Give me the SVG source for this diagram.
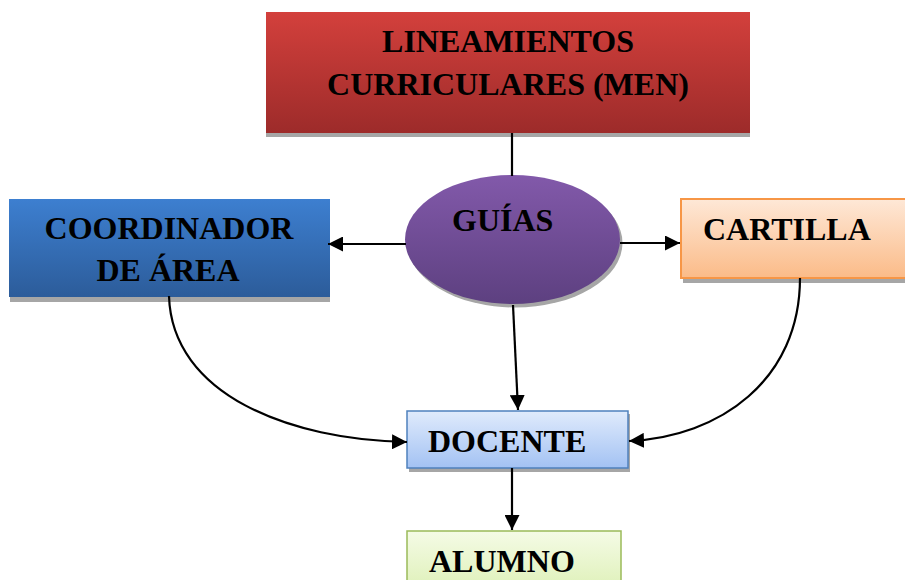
<svg xmlns="http://www.w3.org/2000/svg" width="905" height="580" viewBox="0 0 905 580">
<defs>
<linearGradient id="gRed" x1="0" y1="0" x2="0" y2="1"><stop offset="0" stop-color="#d3403c"/><stop offset="1" stop-color="#9d2b2a"/></linearGradient>
<linearGradient id="gBlue" x1="0" y1="0" x2="0" y2="1"><stop offset="0" stop-color="#3d7fd0"/><stop offset="1" stop-color="#2c5c9a"/></linearGradient>
<linearGradient id="gPurple" x1="0" y1="0" x2="0" y2="1"><stop offset="0" stop-color="#8259aa"/><stop offset="1" stop-color="#5d4080"/></linearGradient>
<linearGradient id="gPeach" x1="0" y1="0" x2="0" y2="1"><stop offset="0" stop-color="#fee8d7"/><stop offset="1" stop-color="#fbbb88"/></linearGradient>
<linearGradient id="gLBlue" x1="0" y1="0" x2="0" y2="1"><stop offset="0" stop-color="#e0ebfc"/><stop offset="1" stop-color="#a3c2f3"/></linearGradient>
<linearGradient id="gGreen" x1="0" y1="0" x2="0" y2="1"><stop offset="0" stop-color="#f5fbe6"/><stop offset="1" stop-color="#d6eda8"/></linearGradient>
<marker id="arr" markerUnits="userSpaceOnUse" markerWidth="16" markerHeight="15" refX="15" refY="7.5" orient="auto"><path d="M0,0 L15,7.5 L0,15 z" fill="#000"/></marker>
<style>
.t{font-family:"Liberation Serif","Times New Roman",serif;font-weight:bold;font-size:32px;fill:#000}
.sh{fill:#a6a6a6}
.c{fill:none;stroke:#000;stroke-width:2.2}
.a{marker-end:url(#arr)}
</style>
</defs>
<g id="lineamientos">
<rect class="sh" x="266" y="16" width="484" height="121"/>
<rect x="266" y="12" width="484" height="121" fill="url(#gRed)"/>
<text class="t" x="508" y="52" text-anchor="middle">LINEAMIENTOS</text>
<text class="t" x="508" y="95" text-anchor="middle">CURRICULARES (MEN)</text>
</g>
<g id="coordinador">
<rect class="sh" x="10" y="203" width="320" height="99"/>
<rect x="9" y="199" width="321" height="98" fill="url(#gBlue)"/>
<text class="t" x="169" y="239" text-anchor="middle">COORDINADOR</text>
<text class="t" x="168" y="281" text-anchor="middle">DE ÁREA</text>
</g>
<g id="guias">
<ellipse class="sh" cx="515" cy="243" rx="107.5" ry="64.5"/>
<ellipse cx="512.5" cy="239.5" rx="107.5" ry="64.5" fill="url(#gPurple)"/>
<text class="t" x="452" y="231">GUÍAS</text>
</g>
<g id="cartilla">
<rect class="sh" x="683" y="202" width="224" height="81"/>
<rect x="681" y="199" width="226" height="79" fill="url(#gPeach)" stroke="#f79646" stroke-width="2"/>
<text class="t" x="703" y="240">CARTILLA</text>
</g>
<g id="docente">
<rect class="sh" x="409" y="414" width="221" height="58"/>
<rect x="407" y="411" width="221" height="57" fill="url(#gLBlue)" stroke="#4f81bd" stroke-width="1.5"/>
<text class="t" x="428" y="452">DOCENTE</text>
</g>
<g id="alumno">
<rect x="407" y="531" width="214" height="80" fill="url(#gGreen)" stroke="#9bbb59" stroke-width="1.5"/>
<text class="t" x="429" y="572">ALUMNO</text>
</g>
<g id="connectors">
<path class="c" d="M512,133 L512,176"/>
<path class="c a" d="M406,244 L328,244"/>
<path class="c a" d="M620,243 L680,243"/>
<path class="c a" d="M513,305 L518,410"/>
<path class="c a" d="M169,296 C172,395 290,440 407,442"/>
<path class="c a" d="M800,278 C800,380 720,437 629,441"/>
<path class="c a" d="M512,468 L512,530"/>
</g>
</svg>
